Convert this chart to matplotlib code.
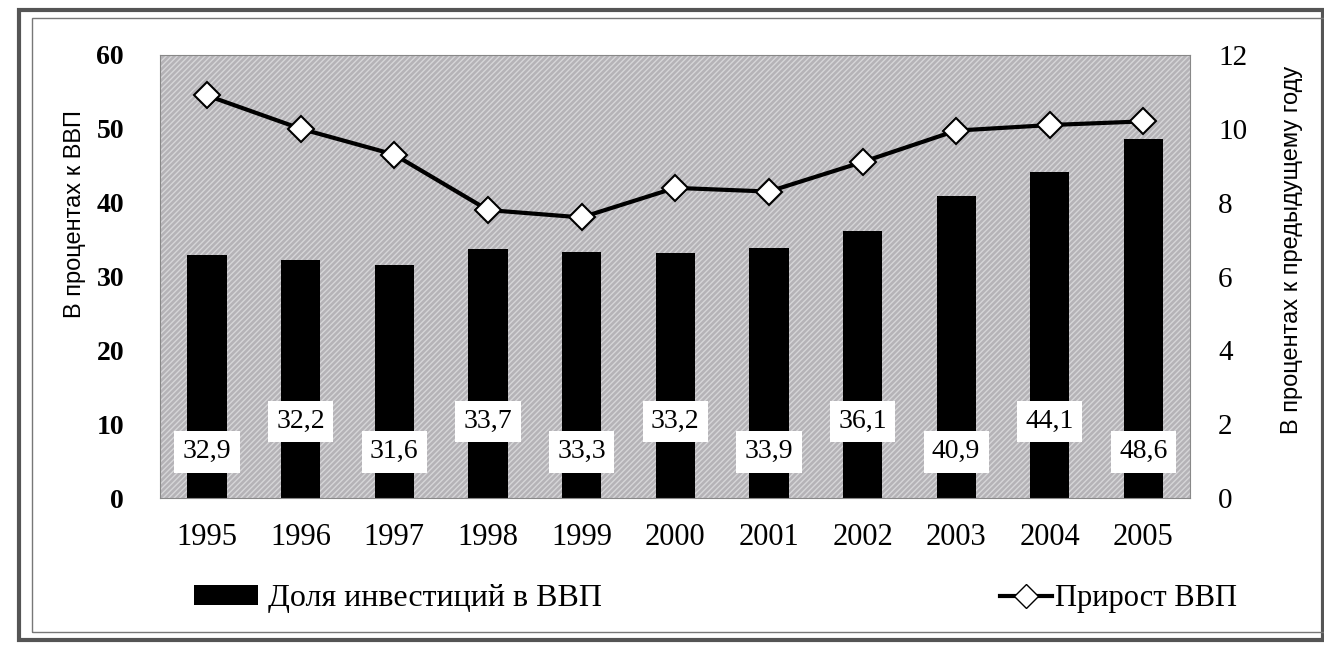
import matplotlib.pyplot as plt
from matplotlib.patches import Rectangle
from matplotlib.lines import Line2D

years = ["1995", "1996", "1997", "1998", "1999", "2000", "2001", "2002", "2003", "2004", "2005"]
invest_share = [32.9, 32.2, 31.6, 33.7, 33.3, 33.2, 33.9, 36.1, 40.9, 44.1, 48.6]
gdp_growth = [10.9, 10.0, 9.3, 7.8, 7.6, 8.4, 8.3, 9.1, 9.95, 10.1, 10.2]
label_heights = [6.3, 10.4]  # alternating positions of the value boxes

serif = ["Liberation Serif", "DejaVu Serif"]
narrow = ["Liberation Sans Narrow", "Liberation Sans", "DejaVu Sans"]

fig = plt.figure(figsize=(13.24, 6.53), dpi=100)
fig.patch.set_facecolor("white")

# double frame around the whole picture
fig.patches.append(Rectangle((0.014, 0.02), 0.985, 0.965, transform=fig.transFigure,
                             fill=False, edgecolor="#555555", linewidth=3))
fig.patches.append(Rectangle((0.024, 0.032), 0.985, 0.94, transform=fig.transFigure,
                             fill=False, edgecolor="#777777", linewidth=1))

ax = fig.add_axes([0.121, 0.237, 0.778, 0.679])
x = list(range(len(years)))

# hatched grey plotting area
ax.set_facecolor("#b5b3b7")
ax.add_patch(Rectangle((0, 0), 1, 1, transform=ax.transAxes, facecolor="none",
                       edgecolor="#d6d6d8", hatch="//////", linewidth=0, zorder=0))

ax.bar(x, invest_share, width=0.42, color="black", zorder=2)
ax.set_xlim(-0.5, len(years) - 0.5)
ax.set_ylim(0, 60)
ax.set_yticks(range(0, 61, 10))
ax.set_xticks(x)
ax.set_xticklabels(years, fontsize=22, family=serif)
ax.tick_params(axis="y", labelsize=20, length=0, pad=26)
ax.tick_params(axis="x", length=0, pad=18)
for lbl in ax.get_yticklabels():
    lbl.set_family(serif)
    lbl.set_fontweight("bold")
ax.set_ylabel("В процентах к ВВП", fontsize=17, family=narrow)
ax.yaxis.set_label_coords(-0.072, 0.64)
for s in ax.spines.values():
    s.set_color("#888888")
    s.set_linewidth(0.8)

for i, v in enumerate(invest_share):
    ax.text(i, label_heights[i % 2], f"{v:.1f}".replace(".", ","), ha="center", va="center",
            fontsize=20, family=serif, zorder=4,
            bbox=dict(boxstyle="square,pad=0.3", facecolor="white", edgecolor="none"))

ax2 = ax.twinx()
ax2.plot(x, gdp_growth, color="black", linewidth=3, marker="D", markersize=13,
         markerfacecolor="white", markeredgecolor="black", markeredgewidth=1.5, zorder=3)
ax2.set_ylim(0, 12)
ax2.set_yticks(range(0, 13, 2))
ax2.tick_params(axis="y", labelsize=21, length=0, pad=20)
for lbl in ax2.get_yticklabels():
    lbl.set_family(serif)
ax2.set_ylabel("В процентах к предыдущему году", fontsize=17, family=narrow, rotation=90)
ax2.yaxis.set_label_coords(1.088, 0.56)
for s in ax2.spines.values():
    s.set_visible(False)

bar_handle = Rectangle((0, 0), 1, 1, facecolor="black")
line_handle = Line2D([], [], color="black", linewidth=3, marker="D", markersize=12,
                     markerfacecolor="white", markeredgecolor="black")
fig.legend([bar_handle], ["Доля инвестиций в ВВП"], loc="center left",
           bbox_to_anchor=(0.125, 0.083), frameon=False, prop={"family": serif, "size": 23},
           handlelength=2.0, handleheight=0.6, handletextpad=0.3)
fig.legend([line_handle], ["Прирост ВВП"], loc="center right",
           bbox_to_anchor=(0.955, 0.083), frameon=False, prop={"family": serif, "size": 22},
           handlelength=1.7, handletextpad=0.1)

fig.savefig("out.png", dpi=100)
